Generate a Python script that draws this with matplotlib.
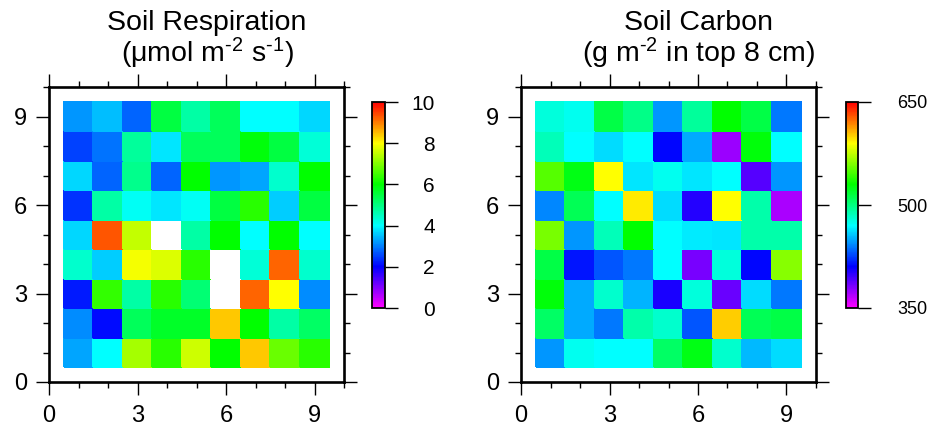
import colorsys
import numpy as np
import matplotlib
matplotlib.use("Agg")
import matplotlib.pyplot as plt
from matplotlib.colors import ListedColormap, Normalize
import matplotlib.cm as cm

plt.rcParams['font.family'] = ['Liberation Sans', 'DejaVu Sans']
plt.rcParams['mathtext.fontset'] = 'custom'
plt.rcParams['mathtext.rm'] = 'Liberation Sans'
plt.rcParams['mathtext.it'] = 'Liberation Sans:italic'
plt.rcParams['mathtext.sf'] = 'Liberation Sans'

# ---- data (rows listed top y=9 to bottom y=1, columns x=1..9) ----
resp_rows = [
    [3.2, 3.5, 2.8, 5.5, 4.7, 5.3, 4.0, 4.0, 3.7],
    [2.5, 2.9, 4.8, 3.8, 5.3, 5.3, 5.9, 5.5, 4.3],
    [3.7, 2.8, 4.9, 2.8, 6.0, 3.2, 3.3, 4.4, 6.0],
    [2.4, 4.7, 4.1, 3.8, 4.1, 5.5, 6.3, 3.6, 5.5],
    [3.7, 9.3, 7.5, 10.8, 4.7, 6.0, 4.0, 6.0, 4.0],
    [4.4, 3.6, 7.9, 7.7, 6.3, 11.2, 4.3, 9.2, 4.4],
    [2.2, 6.4, 4.7, 6.3, 5.1, 11.5, 9.2, 8.0, 3.1],
    [3.1, 2.1, 5.3, 5.7, 5.7, 8.4, 6.0, 4.7, 5.2],
    [3.3, 4.0, 7.3, 6.3, 7.6, 6.0, 8.4, 6.8, 6.3],
]
carbon_rows = [
    [478, 474, 514, 498, 446, 494, 530, 514, 438],
    [486, 470, 462, 470, 412, 450, 374, 528, 470],
    [550, 525, 590, 464, 474, 464, 470, 390, 446],
    [442, 510, 470, 594, 462, 402, 590, 490, 370],
    [558, 446, 486, 530, 470, 466, 464, 490, 490],
    [514, 415, 430, 438, 470, 382, 478, 412, 562],
    [528, 450, 482, 452, 405, 478, 386, 462, 438],
    [506, 450, 438, 490, 482, 430, 601, 510, 514],
    [446, 474, 470, 470, 506, 525, 482, 454, 462],
]
grid_x = [1, 2, 3, 4, 5, 6, 7, 8, 9]
grid_y = [1, 2, 3, 4, 5, 6, 7, 8, 9]
axis_ticks = [0, 3, 6, 9]
resp_range = (0, 10)
resp_cb_ticks = [0, 2, 4, 6, 8, 10]
carbon_range = (350, 650)
carbon_cb_ticks = [350, 500, 650]

title_left = ["Soil Respiration", r"(μmol m$^{\text{-2}}$ s$^{\text{-1}}$)"]
title_right = ["Soil Carbon", r"(g m$^{\text{-2}}$ in top 8 cm)"]

# ---- colormap: hue 300 (magenta) -> 0 (red) ----
cols = [colorsys.hsv_to_rgb((1 - t) * 300 / 360.0, 1, 1) for t in np.linspace(0, 1, 256)]
cmap = ListedColormap(cols)
cmap.set_over('white')

W, H = 934, 434
fig = plt.figure(figsize=(W / 100, H / 100), dpi=100)

def px_rect(x0, y0, x1, y1):
    return [x0 / W, 1 - y1 / H, (x1 - x0) / W, (y1 - y0) / H]

def panel(rect, rows, vrange):
    ax = fig.add_axes(rect)
    data = np.array(rows[::-1], dtype=float)
    xe = np.concatenate([[grid_x[0] - 0.5], np.array(grid_x) + 0.5])
    ye = np.concatenate([[grid_y[0] - 0.5], np.array(grid_y) + 0.5])
    norm = Normalize(*vrange)
    ax.pcolormesh(xe, ye, data, cmap=cmap, norm=norm, shading='flat',
                  edgecolors='face', linewidth=0.3)
    ax.set_xlim(0, 10)
    ax.set_ylim(0, 10)
    ax.set_xticks(axis_ticks)
    ax.set_yticks(axis_ticks)
    ax.set_xticks(np.arange(0, 11, 1), minor=True)
    ax.set_yticks(np.arange(0, 11, 1), minor=True)
    ax.tick_params(which='both', direction='out', top=True, right=True, width=1.0, color='black')
    ax.tick_params(which='major', length=9.5, labelsize=17)
    ax.tick_params(which='minor', length=4.5)
    ax.tick_params(axis='x', which='major', pad=7)
    ax.tick_params(axis='y', which='major', pad=6)
    for s in ax.spines.values():
        s.set_linewidth(1.9)
    return ax, norm

def cbar(rect, norm, ticks, size, ha, pad):
    cax = fig.add_axes(rect)
    sm = cm.ScalarMappable(norm=norm, cmap=cmap)
    cb = fig.colorbar(sm, cax=cax, ticks=ticks)
    cb.outline.set_linewidth(1.3)
    cax.tick_params(direction='out', length=9, width=1.0, labelsize=size, pad=pad)
    for lab in cax.get_yticklabels():
        lab.set_horizontalalignment(ha)
    return cb

axL, nL = panel(px_rect(49, 87, 344, 382), resp_rows, resp_range)
axR, nR = panel(px_rect(521, 87, 816, 382), carbon_rows, carbon_range)

cbar(px_rect(372, 102, 385, 308), nL, resp_cb_ticks, 15, 'right', 27)
cbar(px_rect(846, 102, 858, 308), nR, carbon_cb_ticks, 13, 'left', 19)

def title(xc, lines):
    fig.text(xc / W, 1 - 30 / H, lines[0], ha='center', va='baseline', fontsize=20.5)
    fig.text(xc / W, 1 - 62 / H, lines[1], ha='center', va='baseline', fontsize=20.5)

title(207, title_left)
title(698, title_right)

fig.savefig("out.png", dpi=100)
